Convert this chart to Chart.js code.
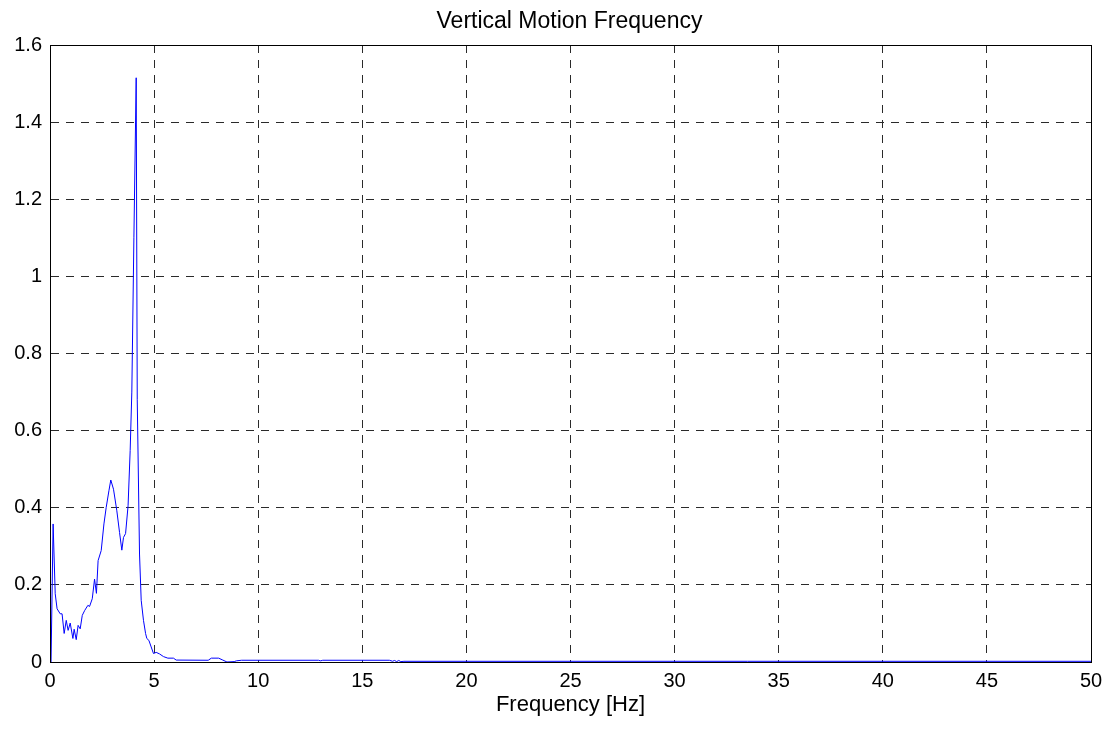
<!DOCTYPE html>
<html>
<head>
<meta charset="utf-8">
<script src="https://cdn.jsdelivr.net/npm/chart.js@4/dist/chart.umd.min.js"></script>
<style>
  html, body { margin: 0; padding: 0; background: #fff; }
  #wrap { width: 1115px; height: 729px; }
</style>
</head>
<body>
<div id="wrap"><canvas id="c" width="1115" height="729"></canvas></div>
<script>
const chartTitle = 'Vertical Motion Frequency';
const xAxisTitle = 'Frequency [Hz]';
const xTicks = [0, 5, 10, 15, 20, 25, 30, 35, 40, 45, 50];
const yTicks = [0, 0.2, 0.4, 0.6, 0.8, 1, 1.2, 1.4, 1.6];

const freq = [0.05, 0.15, 0.25, 0.34, 0.49, 0.58, 0.68, 0.78, 0.87, 0.97, 1.10, 1.16, 1.26, 1.35, 1.45, 1.55, 1.67, 1.82, 1.90, 2.03, 2.14, 2.23, 2.31, 2.46, 2.59, 2.70, 2.83, 2.92, 3.05, 3.21, 3.34, 3.45, 3.53, 3.63, 3.75, 3.85, 3.93, 4.03, 4.14, 4.19, 4.30, 4.38, 4.49, 4.59, 4.65, 4.75, 4.86, 4.97, 5.10, 5.26, 5.45, 5.66, 5.93, 6.06, 7.6, 7.75, 8.1, 8.3, 8.5, 8.85, 8.95, 9.2, 12.9, 13.0, 13.1, 16.3, 16.45, 16.55, 16.65, 16.75, 16.85, 17.0, 50];
const amplitude = [0.0, 0.358, 0.177, 0.138, 0.125, 0.125, 0.074, 0.108, 0.082, 0.101, 0.061, 0.085, 0.058, 0.095, 0.086, 0.121, 0.134, 0.147, 0.144, 0.164, 0.215, 0.178, 0.263, 0.289, 0.358, 0.401, 0.444, 0.472, 0.448, 0.392, 0.336, 0.29, 0.323, 0.333, 0.405, 0.548, 0.70, 1.10, 1.515, 0.68, 0.28, 0.16, 0.108, 0.074, 0.061, 0.056, 0.039, 0.022, 0.025, 0.021, 0.014, 0.01, 0.01, 0.005, 0.0045, 0.010, 0.010, 0.005, 0.0, 0.001, 0.003, 0.0045, 0.0045, 0.003, 0.0045, 0.0045, 0.002, 0.004, 0.001, 0.004, 0.001, 0.0018, 0.0018];

const points = freq.map((f, i) => ({ x: f, y: amplitude[i] }));
const FONT = "'Liberation Sans', Arial, Helvetica, sans-serif";

const boxPlugin = {
  id: 'box',
  afterDatasetsDraw(chart) {
    const { ctx, chartArea: a } = chart;
    ctx.save();
    ctx.strokeStyle = '#000';
    ctx.lineWidth = 1;
    ctx.setLineDash([]);
    ctx.strokeRect(Math.round(a.left) + 0.5, Math.round(a.top) + 0.5,
      Math.round(a.right - a.left), Math.round(a.bottom - a.top));
    ctx.restore();
  },
  afterDraw(chart) {
    const { ctx, chartArea: a } = chart;
    ctx.save();
    ctx.fillStyle = '#000';
    ctx.font = '23px ' + FONT;
    ctx.textAlign = 'center';
    ctx.textBaseline = 'alphabetic';
    ctx.fillText(chartTitle, (a.left + a.right) / 2 - 1, a.top - 17);
    ctx.restore();
  }
};

new Chart(document.getElementById('c'), {
  type: 'line',
  data: {
    datasets: [{
      data: points,
      borderColor: '#0000ff',
      borderWidth: 1,
      pointRadius: 0,
      tension: 0,
      fill: false
    }]
  },
  options: {
    responsive: false,
    animation: false,
    devicePixelRatio: 1,
    layout: { padding: { left: 0, right: 24, top: 45, bottom: 0 } },
    plugins: {
      legend: { display: false },
      tooltip: { enabled: false },
      title: { display: false }
    },
    scales: {
      x: {
        type: 'linear',
        min: 0, max: 50,
        afterBuildTicks: s => { s.ticks = xTicks.map(v => ({ value: v })); },
        afterFit: s => { s.height = 729 - 662; },
        ticks: {
          color: '#000',
          font: { family: FONT, size: 20 },
          padding: 7,
          maxRotation: 0,
          autoSkip: false
        },
        grid: { color: '#2a2a2a', lineWidth: 1, drawTicks: false },
        border: { display: true, color: '#000', width: 1, dash: [8, 7] },
        title: {
          display: true,
          text: xAxisTitle,
          color: '#000',
          font: { family: FONT, size: 22 },
          padding: { top: 0, bottom: 10.8 }
        }
      },
      y: {
        type: 'linear',
        min: 0, max: 1.6,
        afterBuildTicks: s => { s.ticks = yTicks.map(v => ({ value: v })); },
        afterFit: s => { s.width = 50; },
        ticks: {
          color: '#000',
          font: { family: FONT, size: 20 },
          padding: 8,
          callback: v => String(v)
        },
        grid: { color: '#2a2a2a', lineWidth: 1, drawTicks: false },
        border: { display: true, color: '#000', width: 1, dash: [8, 7] }
      }
    }
  },
  plugins: [boxPlugin]
});
</script>
</body>
</html>
